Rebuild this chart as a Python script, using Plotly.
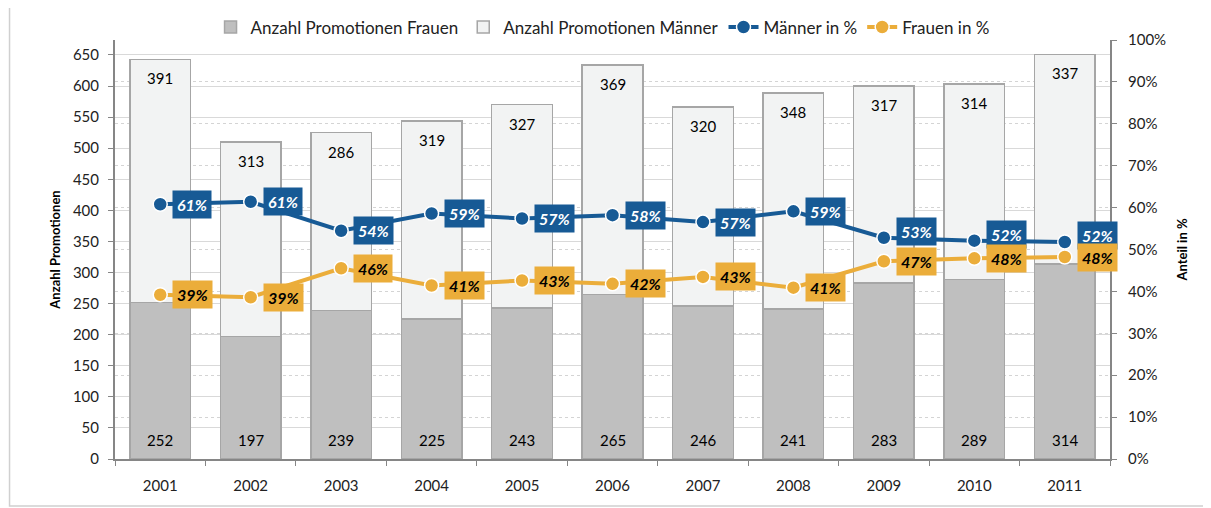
# Promotionen nach Geschlecht 2001-2011: gestapelte Balken + Anteile in %
import plotly.graph_objects as go

years = ["2001", "2002", "2003", "2004", "2005", "2006", "2007", "2008", "2009", "2010", "2011"]
frauen = [252, 197, 239, 225, 243, 265, 246, 241, 283, 289, 314]
maenner = [391, 313, 286, 319, 327, 369, 320, 348, 317, 314, 337]
maenner_pct = [60.8, 61.4, 54.48, 58.6, 57.4, 58.2, 56.54, 59.1, 52.8, 52.1, 51.8]
frauen_pct = [39.2, 38.6, 45.52, 41.4, 42.6, 41.8, 43.46, 40.9, 47.2, 47.9, 48.2]
pct_ticks = list(range(0, 101, 10))

FONT = "Lato"
BLUE = "#175A95"
ORANGE = "#EBAD3A"
AXIS = "#868686"

fig = go.Figure()

fig.add_trace(go.Bar(
    x=years, y=frauen, name="Anzahl Promotionen Frauen",
    marker=dict(color="#BFBFBF", line=dict(color="#A6A6A6", width=1.5)),
))
fig.add_trace(go.Bar(
    x=years, y=maenner, name="Anzahl Promotionen Männer",
    marker=dict(color="#F2F3F3", line=dict(color="#A6A6A6", width=1.5)),
))
fig.add_trace(go.Scatter(
    x=years, y=maenner_pct, name="Männer in %", yaxis="y2",
    mode="lines+markers", line=dict(color=BLUE, width=4),
    marker=dict(size=14, color=BLUE, line=dict(color="white", width=1.5)),
))
fig.add_trace(go.Scatter(
    x=years, y=frauen_pct, name="Frauen in %", yaxis="y2",
    mode="lines+markers", line=dict(color=ORANGE, width=4),
    marker=dict(size=14, color=ORANGE, line=dict(color="white", width=1.5)),
))

# value labels: bars (bottom of Frauen, top of Männer) and percent boxes
# x given as category index, otherwise "2001" is read as a number
annotations = []
for i, (f, m) in enumerate(zip(frauen, maenner)):
    annotations.append(dict(
        x=i, y=0, xref="x", yref="y", yanchor="middle", yshift=19,
        text=str(f), showarrow=False, font=dict(size=15, color="black"),
    ))
    annotations.append(dict(
        x=i, y=f + m, xref="x", yref="y", yanchor="middle", yshift=-19,
        text=str(m), showarrow=False, font=dict(size=15, color="black"),
    ))
for i, (m, f) in enumerate(zip(maenner_pct, frauen_pct)):
    # lift the blue box a little where the two lines come close
    lift = 6 if m - f < 8 else 0
    annotations.append(dict(
        x=i, y=m, xref="x", yref="y2", xanchor="left", xshift=12, yshift=lift,
        text=f"<b><i>{m:.0f}%</i></b>", showarrow=False,
        font=dict(family=FONT, size=16, color="white"),
        bgcolor=BLUE, borderpad=4,
    ))
    annotations.append(dict(
        x=i, y=f, xref="x", yref="y2", xanchor="left", xshift=12,
        text=f"<b><i>{f:.0f}%</i></b>", showarrow=False,
        font=dict(family=FONT, size=16, color="black"),
        bgcolor=ORANGE, borderpad=4,
    ))

# the page body adds an 8px offset, so the figure is 8px smaller
fig.update_layout(
    width=1203, height=500,
    margin=dict(l=107, r=101, t=32, b=49, autoexpand=False),
    paper_bgcolor="white", plot_bgcolor="white",
    font=dict(family=FONT, size=15, color="#222222"),
    barmode="stack", bargap=0.33,
    showlegend=True,
    legend=dict(orientation="h", x=0.49, xanchor="center", y=1.03, yanchor="middle",
                font=dict(size=17), traceorder="normal"),
    xaxis=dict(
        type="category", range=[-0.5, 10.5],
        showline=True, linecolor=AXIS, linewidth=2,
        ticks="outside", tickson="boundaries", ticklen=5, tickcolor=AXIS,
        showgrid=False, tickfont=dict(size=15), tickangle=0, ticklabelstandoff=12,
    ),
    yaxis=dict(
        range=[0, 674], tickvals=list(range(0, 651, 50)),
        showline=True, linecolor=AXIS, linewidth=2,
        ticks="outside", ticklen=5, tickcolor=AXIS, ticklabelstandoff=6,
        showgrid=True, gridcolor="#D9D9D9", gridwidth=1,
        zeroline=False, tickfont=dict(size=15),
        title=dict(text="<b>Anzahl Promotionen</b>", font=dict(size=13, color="black"), standoff=9),
    ),
    yaxis2=dict(
        overlaying="y", side="right", range=[0, 100],
        tickvals=pct_ticks, ticktext=[f"{v}%" for v in pct_ticks],
        showline=True, linecolor=AXIS, linewidth=2,
        ticks="outside", ticklen=5, tickcolor=AXIS, ticklabelstandoff=8,
        showgrid=True, gridcolor="#D4D4D4", griddash="dot", gridwidth=1,
        zeroline=False, tickfont=dict(size=15),
        title=dict(text="<b>Anteil in %</b>", font=dict(size=13, color="black"), standoff=13),
    ),
    annotations=annotations,
    shapes=[dict(
        type="rect", xref="paper", yref="paper",
        x0=-0.106, x1=1.0985, y0=-0.112, y1=1.086,
        line=dict(color="#D0D0D0", width=1.5), layer="below",
    )],
)

fig.write_html("out.html")
